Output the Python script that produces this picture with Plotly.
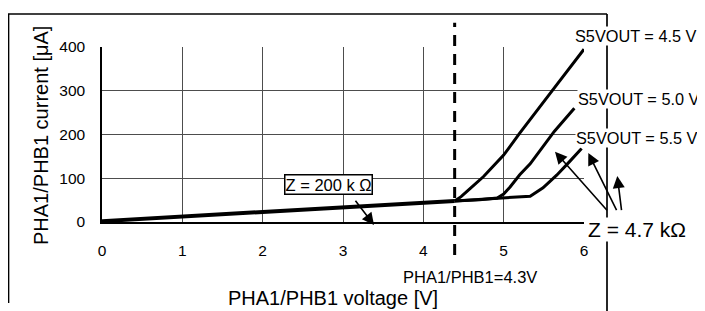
import plotly.graph_objects as go

# ---- data ----
base_v = [0.0, 0.2, 0.6, 1.0, 1.4, 1.8, 2.2, 2.6, 3.0, 3.4, 3.8, 4.2, 4.39]
base_i = [2, 4, 8, 13, 18, 21, 26, 28, 33, 37, 42, 46, 48]

v_45 = [4.39, 4.47, 4.55, 4.75, 5.0, 5.2, 5.6, 6.0]
i_45 = [48, 58, 71, 104, 153, 203, 299, 395]

v_50 = [4.39, 4.7, 4.92, 5.0, 5.08, 5.2, 5.33, 5.63, 5.88]
i_50 = [48, 51, 55, 64, 80, 108, 133, 207, 260]

v_55 = [4.39, 4.9, 5.2, 5.33, 5.49, 5.66, 5.82, 5.97]
i_55 = [48, 54, 57, 59, 78, 107, 138, 168]

series_labels = ["S5VOUT = 4.5 V", "S5VOUT = 5.0 V", "S5VOUT = 5.5 V"]
x_ticks = [0, 1, 2, 3, 4, 5, 6]
y_ticks = [0, 100, 200, 300, 400]
threshold_v = 4.39
threshold_label = "PHA1/PHB1=4.3V"
x_title = "PHA1/PHB1 voltage [V]"
y_title = "PHA1/PHB1 current [μA]"
z_low = "Z = 200 k Ω"
z_high = "Z = 4.7 kΩ"

FONT = "Liberation Sans, Arial, sans-serif"

fig = go.Figure()
for vx, iy in [(v_45, i_45), (v_50, i_50), (v_55, i_55)]:
    fig.add_trace(go.Scatter(x=vx, y=iy, mode="lines",
                             line=dict(color="black", width=3), showlegend=False,
                             hoverinfo="skip"))
fig.add_trace(go.Scatter(x=base_v, y=base_i, mode="lines",
                         line=dict(color="black", width=4), showlegend=False,
                         hoverinfo="skip"))

# the page body has an 8px margin, so the figure is drawn offset by 8px
OFF = 8
W, H = 705 - OFF, 311 - OFF
# plot area in window pixels: x 102..584, y 47..222
L, R, T, B = 102 - OFF, 705 - 584, 47 - OFF, 311 - 222
pw, ph = W - L - R, H - T - B


def px(x):
    return (x - OFF - L) / pw


def py(y):
    return (H - B - (y - OFF)) / ph


annotations = [
    dict(text=x_title, x=px(333), y=py(298), xref="paper", yref="paper",
         showarrow=False, font=dict(size=20), xanchor="center", yanchor="middle"),
    dict(text=y_title, x=px(41), y=py(136), xref="paper", yref="paper",
         showarrow=False, font=dict(size=20), textangle=-90,
         xanchor="center", yanchor="middle"),
    dict(text=threshold_label, x=px(470), y=py(277), xref="paper", yref="paper",
         showarrow=False, font=dict(size=16.5), xanchor="center", yanchor="middle"),
    dict(text=series_labels[0], x=px(636), y=py(36.5), xref="paper", yref="paper",
         showarrow=False, font=dict(size=16.3), bgcolor="white", borderpad=0,
         xanchor="center", yanchor="middle"),
    dict(text=series_labels[1], x=px(639), y=py(99), xref="paper", yref="paper",
         showarrow=False, font=dict(size=16.3), bgcolor="white", borderpad=0,
         xanchor="center", yanchor="middle"),
    dict(text=series_labels[2], x=px(636.5), y=py(137.5), xref="paper", yref="paper",
         showarrow=False, font=dict(size=16.3), bgcolor="white", borderpad=0,
         xanchor="center", yanchor="middle"),
    dict(text=z_high, x=px(636.7), y=py(229), xref="paper", yref="paper",
         showarrow=False, font=dict(size=21), bgcolor="white", borderpad=0,
         xanchor="center", yanchor="middle"),
    dict(text=z_low, x=px(328), y=py(184), xref="paper", yref="paper",
         showarrow=False, font=dict(size=16.5), bgcolor="white",
         bordercolor="black", borderwidth=1.5, borderpad=0,
         xanchor="center", yanchor="middle"),
]

# arrows: (tail_px, tail_py, head_px, head_py) in window pixels
arrows = [
    (354.3, 199.3, 374, 225),
    (608.3, 211.7, 555, 151.7),
    (617.3, 211.7, 588.3, 153),
    (621.7, 211.7, 617.3, 176),
]
for tx, ty, hx, hy in arrows:
    annotations.append(dict(text="", x=px(hx), y=py(hy), xref="paper", yref="paper",
                            ax=tx - hx, ay=ty - hy, axref="pixel", ayref="pixel",
                            showarrow=True, arrowhead=2, arrowsize=1.5,
                            arrowwidth=1.6, arrowcolor="black"))

shapes = [
    # threshold dashed line
    dict(type="line", xref="x", yref="paper", x0=threshold_v, x1=threshold_v,
         y0=py(255), y1=py(22.7), line=dict(color="black", width=3, dash="11px,8px")),
    # outer frame
    dict(type="line", xref="paper", yref="paper", x0=px(8), x1=px(607),
         y0=py(14), y1=py(14), line=dict(color="black", width=1.7), layer="below"),
    dict(type="line", xref="paper", yref="paper", x0=px(8.5), x1=px(8.5),
         y0=py(14), y1=py(303), line=dict(color="black", width=1.7), layer="below"),
    dict(type="line", xref="paper", yref="paper", x0=px(607), x1=px(607),
         y0=py(14), y1=py(320), line=dict(color="black", width=1.7), layer="below"),
]

fig.update_layout(
    width=W, height=H,
    margin=dict(l=L, r=R, t=T, b=B, pad=0),
    paper_bgcolor="white", plot_bgcolor="white",
    font=dict(family=FONT, color="black", size=15.5),
    showlegend=False,
    annotations=annotations,
    shapes=shapes,
)
fig.update_xaxes(range=[0, 6], tickvals=x_ticks, ticktext=[str(t) for t in x_ticks],
                 showgrid=True, gridcolor="#4d4d4d", gridwidth=1,
                 showline=True, linecolor="black", linewidth=2, zeroline=False,
                 ticks="", ticklabelstandoff=13, tickfont=dict(size=15.5))
fig.update_yaxes(range=[0, 400], tickvals=y_ticks, ticktext=[str(t) for t in y_ticks],
                 showgrid=True, gridcolor="#4d4d4d", gridwidth=1,
                 showline=True, linecolor="black", linewidth=1.5, zeroline=False,
                 ticks="", ticklabelstandoff=12, tickfont=dict(size=15.5))

fig.write_html("out.html")
